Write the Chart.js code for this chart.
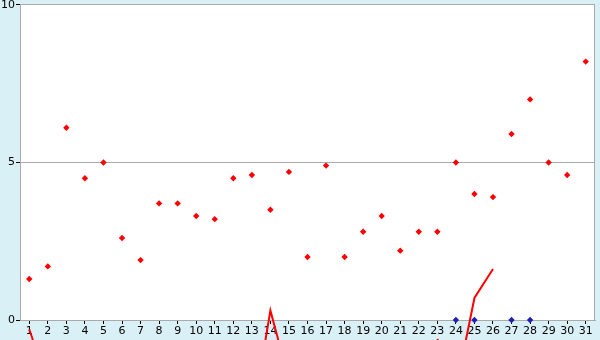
<!DOCTYPE html>
<html>
<head>
<meta charset="utf-8">
<script src="https://cdn.jsdelivr.net/npm/chart.js@4/dist/chart.umd.min.js"></script>
<style>
html,body{margin:0;padding:0;background:#daf0f7;}
#c{display:block;}
</style>
</head>
<body>
<canvas id="c" width="600" height="340"></canvas>
<script>
const days = ['1','2','3','4','5','6','7','8','9','10','11','12','13','14','15','16','17','18','19','20','21','22','23','24','25','26','27','28','29','30','31'];
const redPoints = [1.3,1.7,6.1,4.5,5.0,2.6,1.9,3.7,3.7,3.3,3.2,4.5,4.6,3.5,4.7,2.0,4.9,2.0,2.8,3.3,2.2,2.8,2.8,5.0,4.0,3.9,5.9,7.0,5.0,4.6,8.2];
const bluePoints = [null,null,null,null,null,null,null,null,null,null,null,null,null,null,null,null,null,null,null,null,null,null,null,0,0,null,0,0,null,null,null];
const redLine = [-0.3,-2.0,null,null,null,null,null,null,null,null,null,null,-3.2,0.3,-1.9,null,null,null,null,null,null,null,-0.6,-2.2,0.7,1.62,null,null,null,null,null];
const yTicks = [0,5,10];

const bgPlugin = {
  id:'bg',
  beforeDraw(chart){
    const {ctx, chartArea:a} = chart;
    ctx.save();
    ctx.fillStyle = '#daf0f7';
    ctx.fillRect(0,0,chart.width,chart.height);
    ctx.fillStyle = '#ffffff';
    ctx.fillRect(a.left,a.top,a.right-a.left,a.bottom-a.top);
    ctx.restore();
  },
  beforeDatasetsDraw(chart){
    const {ctx, chartArea:a} = chart;
    ctx.save();
    ctx.strokeStyle = '#aaaaaa';
    ctx.lineWidth = 1;
    ctx.beginPath();
    ctx.moveTo(Math.round(a.right)-0.5, a.top);
    ctx.lineTo(Math.round(a.right)-0.5, a.bottom);
    ctx.stroke();
    ctx.restore();
  }
};

new Chart(document.getElementById('c'), {
  type:'line',
  data:{
    labels: days,
    datasets:[
      {data: redLine, borderColor:'#ff0000', borderWidth:2, pointRadius:0, tension:0, spanGaps:false, clip:false, order:3},
      {data: bluePoints, showLine:false, pointStyle:'rectRot', pointRadius:3.2, backgroundColor:'#2020b0', borderColor:'#2020b0', borderWidth:0, order:2, clip:false},
      {data: redPoints, showLine:false, pointStyle:'rectRot', pointRadius:3.2, backgroundColor:'#ff0000', borderColor:'#ff0000', borderWidth:0, order:1}
    ]
  },
  options:{
    responsive:false,
    animation:false,
    devicePixelRatio:1,
    layout:{padding:{top:4,right:5,left:0,bottom:0}},
    plugins:{legend:{display:false}, tooltip:{enabled:false}},
    scales:{
      x:{
        offset:true,
        grid:{display:true, drawOnChartArea:false, drawTicks:true, tickLength:4, tickColor:'#000000', offset:false},
        border:{display:true, color:'#aaaaaa'},
        ticks:{color:'#000', font:{family:'DejaVu Sans', size:11}, padding:1, maxRotation:0, autoSkip:false},
        afterFit(s){ s.height = 20; }
      },
      y:{
        min:0, max:10,
        afterBuildTicks(s){ s.ticks = yTicks.map(v=>({value:v})); },
        grid:{color:'#aaaaaa', drawTicks:true, tickLength:4, tickColor:'#000000'},
        border:{display:true, color:'#aaaaaa'},
        ticks:{color:'#000', font:{family:'DejaVu Sans', size:11, lineHeight:0.7}, padding:1},
        afterFit(s){ s.width = 20; }
      }
    }
  },
  plugins:[bgPlugin]
});
</script>
</body>
</html>
